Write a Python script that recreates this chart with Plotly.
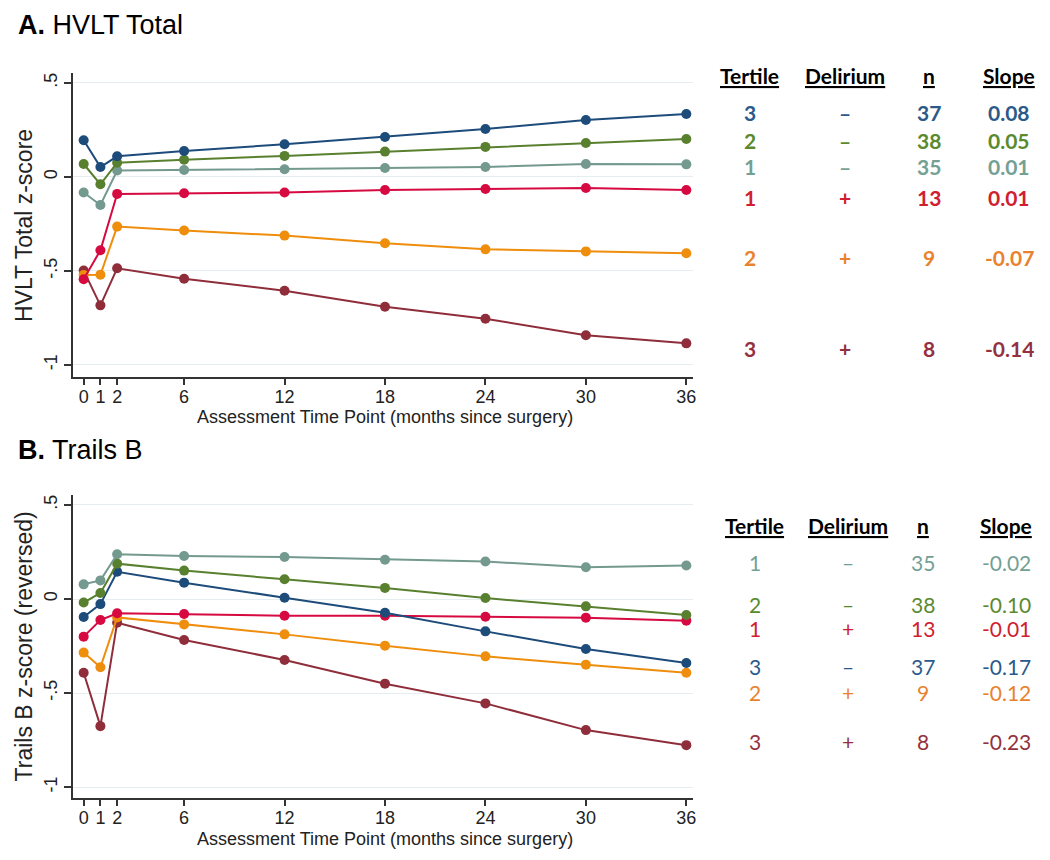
import plotly.graph_objects as go

W, H = 1050, 860

months = [0, 1, 2, 6, 12, 18, 24, 30, 36]

# Panel A: HVLT Total z-score
hvlt_t3_nodel = [0.195, 0.053, 0.110, 0.138, 0.174, 0.213, 0.255, 0.303, 0.335]
hvlt_t2_nodel = [0.069, -0.039, 0.076, 0.092, 0.112, 0.135, 0.160, 0.181, 0.202]
hvlt_t1_nodel = [-0.083, -0.149, 0.034, 0.037, 0.041, 0.048, 0.053, 0.069, 0.067]
hvlt_t1_del = [-0.544, -0.390, -0.090, -0.087, -0.083, -0.069, -0.064, -0.059, -0.069]
hvlt_t2_del = [-0.521, -0.520, -0.264, -0.285, -0.312, -0.353, -0.385, -0.396, -0.406]
hvlt_t3_del = [-0.498, -0.683, -0.486, -0.541, -0.605, -0.690, -0.754, -0.842, -0.885]

# Panel B: Trails B z-score (reversed)
trails_t1_nodel = [0.078, 0.099, 0.238, 0.229, 0.223, 0.209, 0.199, 0.169, 0.178]
trails_t2_nodel = [-0.019, 0.032, 0.188, 0.151, 0.105, 0.059, 0.005, -0.039, -0.085]
trails_t1_del = [-0.200, -0.112, -0.076, -0.080, -0.089, -0.089, -0.094, -0.099, -0.115]
trails_t3_nodel = [-0.096, -0.027, 0.145, 0.087, 0.007, -0.073, -0.172, -0.266, -0.340]
trails_t2_del = [-0.285, -0.363, -0.098, -0.135, -0.188, -0.248, -0.305, -0.349, -0.392]
trails_t3_del = [-0.392, -0.676, -0.126, -0.218, -0.324, -0.450, -0.555, -0.697, -0.777]

# table beside each panel
table_a_tertile = ["3", "2", "1", "1", "2", "3"]
table_a_delirium = ["–", "–", "–", "+", "+", "+"]
table_a_n = ["37", "38", "35", "13", "9", "8"]
table_a_slope = ["0.08", "0.05", "0.01", "0.01", "-0.07", "-0.14"]

table_b_tertile = ["1", "2", "1", "3", "2", "3"]
table_b_delirium = ["–", "–", "+", "–", "+", "+"]
table_b_n = ["35", "38", "13", "37", "9", "8"]
table_b_slope = ["-0.02", "-0.10", "-0.01", "-0.17", "-0.12", "-0.23"]

ytick_vals = [0.5, 0, -0.5, -1]
ytick_text = [".5", "0", "-.5", "-1"]

# colours per group (lines / table text)
C = {
    "t3_nodel": "#1d4b7a",
    "t2_nodel": "#58802f",
    "t1_nodel": "#74998f",
    "t1_del": "#d60a40",
    "t2_del": "#ef8d0c",
    "t3_del": "#8f2d3a",
}
TC = {
    "t3_nodel": "#2b5a8a",
    "t2_nodel": "#5b8a2e",
    "t1_nodel": "#74a094",
    "t1_del": "#d0202f",
    "t2_del": "#e9822e",
    "t3_del": "#933140",
}

def px(x):
    return x / W

def py(y):
    return 1 - y / H

fig = go.Figure()

series_a = [
    ("t3_del", hvlt_t3_del), ("t2_del", hvlt_t2_del), ("t1_del", hvlt_t1_del),
    ("t1_nodel", hvlt_t1_nodel), ("t2_nodel", hvlt_t2_nodel), ("t3_nodel", hvlt_t3_nodel),
]
series_b = [
    ("t3_del", trails_t3_del), ("t2_del", trails_t2_del), ("t1_del", trails_t1_del),
    ("t3_nodel", trails_t3_nodel), ("t2_nodel", trails_t2_nodel), ("t1_nodel", trails_t1_nodel),
]

for key, ys in series_a:
    fig.add_trace(go.Scatter(x=months, y=ys, mode="lines+markers", xaxis="x", yaxis="y",
                             line=dict(color=C[key], width=2), marker=dict(color=C[key], size=10),
                             showlegend=False))
for key, ys in series_b:
    fig.add_trace(go.Scatter(x=months, y=ys, mode="lines+markers", xaxis="x2", yaxis="y2",
                             line=dict(color=C[key], width=2), marker=dict(color=C[key], size=10),
                             showlegend=False))

axis_font = dict(family="Liberation Sans, Arial", size=18, color="#222")
xcommon = dict(range=[-0.65, 36.4], tickvals=months, ticks="outside", ticklen=6, tickwidth=2,
               tickcolor="#333", showline=True, linecolor="#333", linewidth=2, showgrid=False,
               zeroline=False, tickfont=axis_font, ticklabelstandoff=-4)
ycommon = dict(tickvals=ytick_vals, ticktext=ytick_text, tickangle=-90, ticks="outside", ticklen=7,
               tickwidth=2, tickcolor="#333", showline=True, linecolor="#333", linewidth=2,
               showgrid=True, gridcolor="#e4eef0", gridwidth=1, zeroline=False, tickfont=axis_font,
               ticklabelstandoff=0)

fig.update_layout(
    width=W, height=H,
    margin=dict(l=0, r=0, t=0, b=0),
    paper_bgcolor="white", plot_bgcolor="white",
    xaxis=dict(domain=[px(73), px(695)], anchor="y", **xcommon),
    yaxis=dict(domain=[py(377), py(73)], anchor="x", range=[-1.064, 0.553], **ycommon),
    xaxis2=dict(domain=[px(73), px(695)], anchor="y2", **xcommon),
    yaxis2=dict(domain=[py(798), py(495)], anchor="x2", range=[-1.058, 0.553], **ycommon),
)

ann = []
title_font = dict(family="Liberation Sans, Arial", size=27, color="black")
ann.append(dict(text="<b>A.</b> HVLT Total", x=px(16), y=py(25), xanchor="left", yanchor="middle",
                font=title_font))
ann.append(dict(text="<b>B.</b> Trails B", x=px(16), y=py(450), xanchor="left", yanchor="middle",
                font=title_font))

lab_font = dict(family="Liberation Sans, Arial", size=18, color="#222")
ylab_font = dict(family="Liberation Sans, Arial", size=23, color="#222")
for ytitle, ymid, xt_y in [("HVLT Total z-score", (73 + 377) / 2, 417),
                           ("Trails B z-score (reversed)", (495 + 798) / 2, 839)]:
    ann.append(dict(text=ytitle, x=px(24), y=py(ymid), textangle=-90, xanchor="center",
                    yanchor="middle", font=ylab_font))
    ann.append(dict(text="Assessment Time Point (months since surgery)", x=px(386), y=py(xt_y),
                    xanchor="center", yanchor="middle", font=lab_font))

tab_family = "Lato, Open Sans, sans-serif"

def add_table(header_y, col_x, row_y, rows, keys, bold):
    heads = ["Tertile", "Delirium", "n", "Slope"]
    for hx, ht in zip(col_x, heads):
        ann.append(dict(text="<b>" + ht + "</b>", x=px(hx), y=py(header_y), xanchor="center",
                        yanchor="middle",
                        font=dict(family=tab_family, size=21, color="black", lineposition="under")))
    for i, key in enumerate(keys):
        for j, cx in enumerate(col_x):
            t = rows[j][i]
            if bold:
                t = "<b>" + t + "</b>"
            ann.append(dict(text=t, x=px(cx), y=py(row_y[i]), xanchor="center", yanchor="middle",
                            font=dict(family=tab_family, size=21, color=TC[key])))

add_table(75, [752, 847, 932, 1012], [112, 140, 166, 197, 257, 348],
          [table_a_tertile, table_a_delirium, table_a_n, table_a_slope],
          ["t3_nodel", "t2_nodel", "t1_nodel", "t1_del", "t2_del", "t3_del"], True)
add_table(525, [757, 850, 926, 1009], [562, 604, 628, 666, 692, 741],
          [table_b_tertile, table_b_delirium, table_b_n, table_b_slope],
          ["t1_nodel", "t2_nodel", "t1_del", "t3_nodel", "t2_del", "t3_del"], False)

for a in ann:
    a.update(xref="paper", yref="paper", showarrow=False)
fig.update_layout(annotations=ann)

# the page's default 8px body margin would shift the whole figure
fig.write_html("out.html", config={"displayModeBar": False},
               post_script="document.body.style.margin='0';")
